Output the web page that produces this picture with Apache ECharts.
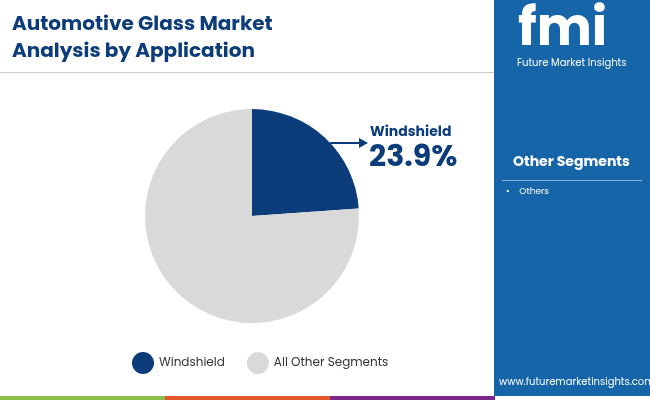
<!DOCTYPE html>
<html style="height: 100%">
<head>
    <meta charset="utf-8">
</head>
<body style="height: 100%; margin: 0">
<div id="container" style="width: 650px; height: 400px"></div>
<script type="text/javascript" src="https://cdn.jsdelivr.net/npm/echarts@6/dist/echarts.min.js"></script>
<script type="text/javascript">
    var categories = ['Windshield', 'All Other Segments'];
    var values = [23.9, 76.1];
    var colors = ['#0c3d7a', '#d9d9d9'];
    var otherSegments = ['Others'];

    var myChart = echarts.init(document.getElementById('container'));
    var font = 'Poppins, "Open Sans", sans-serif';

    var option = {
        animation: false,
        backgroundColor: '#ffffff',
        legend: {
            data: categories,
            left: 127,
            top: 347,
            icon: 'circle',
            itemWidth: 22,
            itemHeight: 22,
            itemGap: 22,
            textStyle: {fontSize: 12, color: '#333', fontFamily: font}
        },
        graphic: [
            {type: 'text', left: 12, top: 11, style: {text: 'Automotive Glass Market\nAnalysis by Application', fill: '#0c3d7a', font: 'bold 20px ' + font, lineHeight: 27}},
            {type: 'rect', shape: {x: 0, y: 72, width: 494, height: 1}, style: {fill: '#cccccc'}},
            {type: 'rect', shape: {x: 494, y: 0, width: 156, height: 396}, style: {fill: '#1565a8'}},
            {type: 'text', left: 518, top: 6, style: {text: 'fmi', fill: '#ffffff', font: 'bold 52px ' + font}},
            {type: 'text', left: 517, top: 58, style: {text: 'Future Market Insights', fill: '#ffffff', font: '10px ' + font}},
            {type: 'text', left: 513, top: 155, style: {text: 'Other Segments', fill: '#ffffff', font: 'bold 14px ' + font}},
            {type: 'rect', shape: {x: 502, y: 180, width: 140, height: 1}, style: {fill: '#8fb3d6'}},
            {type: 'text', left: 506, top: 187, style: {text: '•    ' + otherSegments.join('\n•    '), fill: '#ffffff', font: '9px ' + font}},
            {type: 'text', left: 499, top: 377, style: {text: 'www.futuremarketinsights.com', fill: '#ffffff', font: '10px ' + font}},
            {type: 'rect', shape: {x: 0, y: 396, width: 165, height: 4}, style: {fill: '#8cc04b'}},
            {type: 'rect', shape: {x: 165, y: 396, width: 165, height: 4}, style: {fill: '#e4572e'}},
            {type: 'rect', shape: {x: 330, y: 396, width: 165, height: 4}, style: {fill: '#7b2a8a'}},
            {type: 'line', shape: {x1: 330, y1: 143, x2: 360, y2: 143}, style: {stroke: '#0c3d7a', lineWidth: 2}},
            {type: 'polygon', shape: {points: [[368, 143], [359, 138], [359, 148]]}, style: {fill: '#0c3d7a'}},
            {type: 'text', left: 370, top: 125, style: {text: categories[0], fill: '#0c3d7a', font: 'bold 14px ' + font}},
            {type: 'text', left: 369, top: 143, style: {text: values[0].toFixed(1) + '%', fill: '#0c3d7a', font: 'bold 30px ' + font}}
        ],
        series: [{
            type: 'pie',
            center: [252, 216],
            radius: 107,
            startAngle: 90,
            clockwise: true,
            label: {show: false},
            labelLine: {show: false},
            data: categories.map(function (name, i) {
                return {name: name, value: values[i], itemStyle: {color: colors[i]}};
            })
        }]
    };
    myChart.setOption(option);
</script>
</body>
</html>
